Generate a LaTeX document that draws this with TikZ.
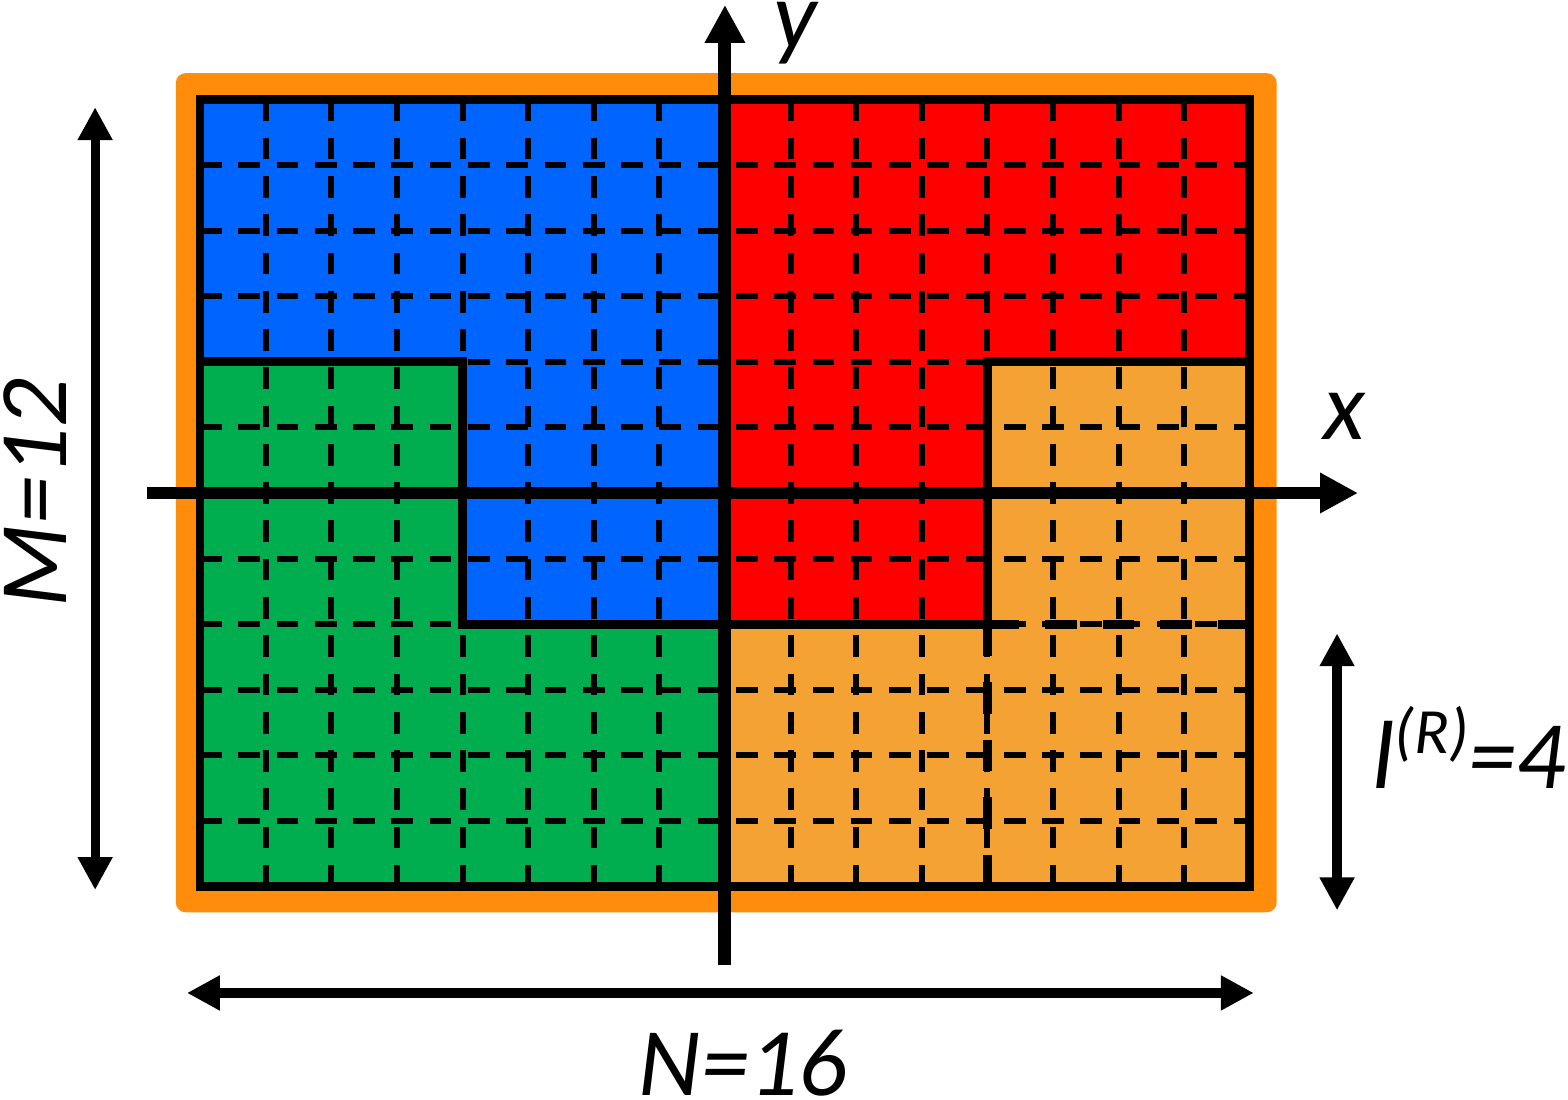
\documentclass[tikz,border=0pt]{standalone}
\usepackage{fontspec}
\setmainfont{Carlito}
\usetikzlibrary{%
    arrows.meta,%
    positioning%
}
\definecolor{frameorange}{HTML}{FF8C0A}
\definecolor{blockblue}{HTML}{0064FF}
\definecolor{blockred}{HTML}{FF0000}
\definecolor{blockgreen}{HTML}{00AE50}
\definecolor{blockorange}{HTML}{F5A235}

\begin{document}
\begin{tikzpicture}[
    gridline/.style={black, line width=2.6pt, dash pattern=on 9.4pt off 7.2pt},
    borderline/.style={black, line width=3.8pt},
    bigdash/.style={black, line width=3.8pt, dash pattern=on 13.8pt off 11.2pt},
    axisline/.style={black, line width=5.6pt, -{Triangle[length=5.8mm,width=5.8mm]}},
    dimline/.style={black, line width=4pt, {Triangle[length=5mm,width=5mm]}-{Triangle[length=5mm,width=5mm]}},
    lbl/.style={font=\itshape\fontsize{42}{50}\selectfont, inner sep=0pt}
]
				\useasboundingbox (-11.05,-9.24) rectangle (12.85,7.515);

				% orange frame
				\fill[frameorange, rounded corners=0.15cm] (-8.37,-6.39) rectangle (8.41,6.40);

				% the four blocks
				\fill[blockblue] (-8,6) -- (0,6) -- (0,-2) -- (-4,-2) -- (-4,2) -- (-8,2) -- cycle;
				\fill[blockgreen] (-8,2) -- (-4,2) -- (-4,-2) -- (0,-2) -- (0,-6) -- (-8,-6) -- cycle;
				\fill[blockred] (0,6) -- (8,6) -- (8,2) -- (4,2) -- (4,-2) -- (0,-2) -- cycle;
				\fill[blockorange] (4,2) -- (8,2) -- (8,-6) -- (0,-6) -- (0,-2) -- (4,-2) -- cycle;

				% dashed cells
				\foreach \i in {-7,...,7}
					\draw[gridline] (\i,-6) -- (\i,6);
				\foreach \j in {-5,...,5}
					\draw[gridline] (-8,\j) -- (8,\j);

				% block borders
				\draw[borderline] (-8,-6) rectangle (8,6);
				\draw[borderline] (-8,2) -- (-4,2) -- (-4,-2) -- (0,-2);
				\draw[borderline] (8,2) -- (4,2) -- (4,-2) -- (0,-2);
				\draw[bigdash] (4,-2) -- (8,-2);
				\draw[bigdash] (4,-2) -- (4,-6);

				% axes
				\coordinate (xstart) at (-8.81,0);
				\coordinate (xend) at (9.65,0);
				\coordinate (ystart) at (0,-7.2);
				\coordinate (yend) at (0,7.44);
				\draw[axisline] (xstart) -- (xend);
				\draw[axisline] (ystart) -- (yend);
				\node[lbl, anchor=base] (xlabel) at (9.44,0.81) {x};
				\node[lbl, anchor=base] (ylabel) at (1.07,6.78) {y};

				% sizes
				\coordinate (mtop) at (-9.6,5.88);
				\coordinate (mbottom) at (-9.6,-6.05);
				\coordinate (nleft) at (-8.2,-7.62);
				\coordinate (nright) at (8.06,-7.62);
				\coordinate (ltop) at (9.33,-2.14);
				\coordinate (lbottom) at (9.33,-6.36);
				\draw[dimline] (mtop) -- (mbottom);
				\draw[dimline] (nleft) -- (nright);
				\draw[dimline] (ltop) -- (lbottom);
				\node[lbl, rotate=90, anchor=base] (mlabel) at (-10.03,0) {M=12};
				\node[lbl, anchor=base] (nlabel) at (0.28,-9.19) {N=16};
				\node[lbl, anchor=base west] (llabel) at (9.86,-4.5) {l\raisebox{15pt}{\fontsize{28}{28}\selectfont (R)}=4};
			\end{tikzpicture}
\end{document}
